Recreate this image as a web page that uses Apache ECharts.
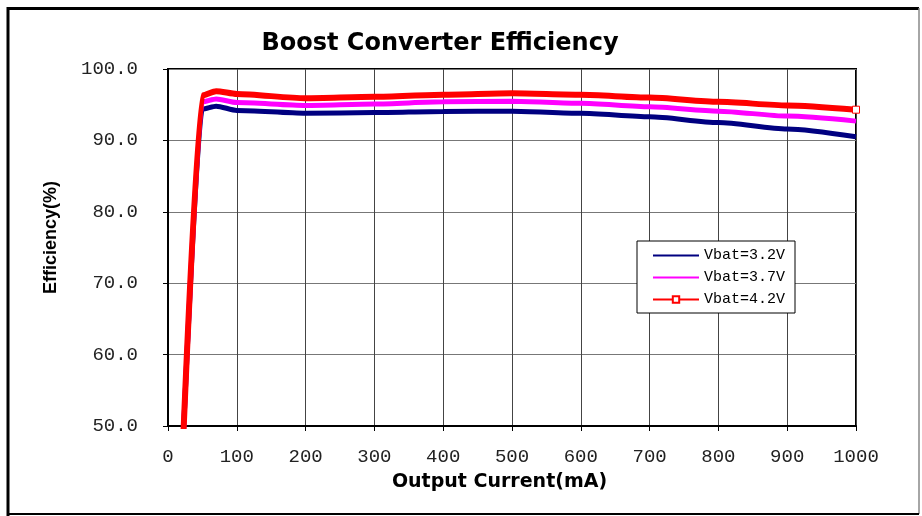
<!DOCTYPE html>
<html>
<head>
<meta charset="utf-8">
<script src="https://cdn.jsdelivr.net/npm/echarts@6/dist/echarts.min.js"></script>
<style>
  html, body { margin: 0; padding: 0; background: #fff; }
  #chart { width: 922px; height: 516px; }
</style>
</head>
<body>
<div id="chart"></div>
<script>
// output current (mA) and efficiency (%)
var currents = [22, 50, 70, 100, 200, 300, 400, 500, 600, 700, 800, 900, 1000];
var eff32 = [48, 94.4, 94.8, 94.2, 93.8, 93.9, 94.05, 94.1, 93.8, 93.3, 92.5, 91.6, 90.5];
var eff37 = [48, 95.4, 95.8, 95.3, 94.9, 95.1, 95.4, 95.5, 95.2, 94.7, 94.1, 93.4, 92.7];
var eff42 = [48, 96.3, 96.9, 96.5, 95.9, 96.1, 96.4, 96.6, 96.4, 96.0, 95.4, 94.9, 94.3];
var seriesNames = ['Vbat=3.2V', 'Vbat=3.7V', 'Vbat=4.2V'];

function pairs(ys) {
  return currents.map(function (x, i) { return [x, ys[i]]; });
}

var last = currents.length - 1;
var monoFont = '"Liberation Mono", monospace';

var chart = echarts.init(document.getElementById('chart'));

var option = {
  backgroundColor: '#fff',
  animation: false,
  title: {
    text: 'Boost Converter Efficiency',
    left: 440,
    top: 32,
    textAlign: 'center',
    padding: 0,
    textStyle: {
      fontFamily: '"DejaVu Sans", sans-serif',
      fontWeight: 'bold',
      fontSize: 24,
      color: '#000'
    }
  },
  legend: {
    data: [
      { name: seriesNames[0], itemStyle: { opacity: 0 } },
      { name: seriesNames[1], itemStyle: { opacity: 0 } },
      { name: seriesNames[2] }
    ],
    orient: 'vertical',
    left: 637,
    top: 241,
    padding: [7, 10, 6, 15],
    itemWidth: 46,
    itemHeight: 8,
    itemGap: 7,
    borderColor: '#000',
    borderWidth: 1,
    backgroundColor: '#fff',
    lineStyle: { width: 2 },
    textStyle: {
      fontFamily: monoFont,
      fontSize: 15,
      lineHeight: 14,
      color: '#000'
    }
  },
  graphic: [
    { type: 'line', shape: { x1: 8, y1: 7, x2: 8, y2: 516 }, style: { stroke: '#000', lineWidth: 3 } },
    { type: 'line', shape: { x1: 7, y1: 8.5, x2: 919, y2: 8.5 }, style: { stroke: '#000', lineWidth: 3 } },
    { type: 'line', shape: { x1: 919, y1: 8, x2: 919, y2: 514 }, style: { stroke: '#888', lineWidth: 1.5 } },
    { type: 'line', shape: { x1: 7, y1: 514, x2: 919, y2: 514 }, style: { stroke: '#000', lineWidth: 2 } }
  ],
  grid: {
    left: 168,
    right: 66,
    top: 69,
    bottom: 90,
    show: true,
    borderColor: '#000',
    borderWidth: 2
  },
  xAxis: {
    type: 'value',
    min: 0,
    max: 1000,
    interval: 100,
    name: 'Output Current(mA)',
    nameLocation: 'middle',
    nameGap: 47,
    nameTextStyle: {
      fontFamily: '"DejaVu Sans", sans-serif',
      fontWeight: 'bold',
      fontSize: 19,
      color: '#000',
      padding: [0, 25, 0, 0]
    },
    axisLine: { lineStyle: { color: '#000', width: 2 } },
    axisTick: { show: true, length: 5, lineStyle: { color: '#000' } },
    axisLabel: {
      margin: 21,
      fontFamily: monoFont,
      fontSize: 19,
      color: '#222',
      formatter: function (v) { return String(v); }
    },
    splitLine: { show: true, lineStyle: { color: '#444', width: 1 } }
  },
  yAxis: {
    type: 'value',
    min: 50,
    max: 100,
    interval: 10,
    name: 'Efficiency(%)',
    nameLocation: 'middle',
    nameGap: 108,
    nameTextStyle: {
      fontFamily: '"Liberation Sans", Arial, sans-serif',
      fontWeight: 'bold',
      fontSize: 18,
      color: '#000',
      padding: [0, 0, 0, 20]
    },
    axisLine: { show: true, lineStyle: { color: '#000', width: 2 } },
    axisTick: { show: true, length: 5, lineStyle: { color: '#000' } },
    axisLabel: {
      margin: 30,
      fontFamily: monoFont,
      fontSize: 19,
      color: '#222',
      formatter: function (v) { return v.toFixed(1); }
    },
    splitLine: { show: true, lineStyle: { color: '#777', width: 1 } }
  },
  series: [
    {
      name: seriesNames[0],
      type: 'line',
      smooth: 0.25,
      smoothMonotone: 'x',
      symbol: 'none',
      color: '#000080',
      lineStyle: { color: '#000080', width: 5 },
      data: pairs(eff32)
    },
    {
      name: seriesNames[1],
      type: 'line',
      smooth: 0.25,
      smoothMonotone: 'x',
      symbol: 'none',
      color: '#ff00ff',
      lineStyle: { color: '#ff00ff', width: 5 },
      data: pairs(eff37)
    },
    {
      name: seriesNames[2],
      type: 'line',
      smooth: 0.25,
      smoothMonotone: 'x',
      symbol: 'emptyRect',
      symbolSize: 7,
      showSymbol: false,
      color: '#ff0000',
      lineStyle: { color: '#ff0000', width: 6 },
      data: pairs(eff42),
      // end marker, the only one not hidden by the thick line
      markPoint: {
        silent: true,
        symbol: 'rect',
        symbolSize: 7,
        label: { show: false },
        itemStyle: { color: '#fff', borderColor: '#ff0000', borderWidth: 1 },
        data: [{ coord: [currents[last], eff42[last]] }]
      }
    }
  ]
};

chart.setOption(option);
</script>
</body>
</html>
